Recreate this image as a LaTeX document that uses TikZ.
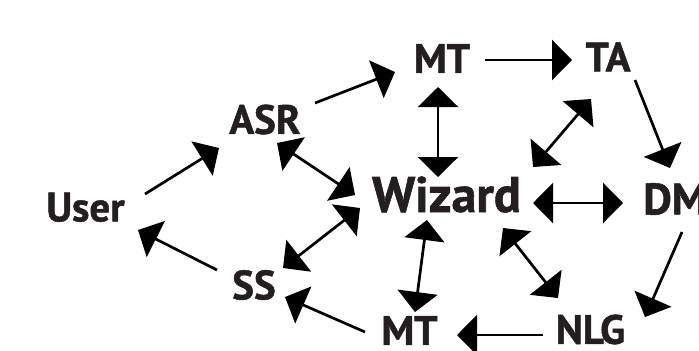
\documentclass[tikz,border=0pt]{standalone}
\usepackage{fontspec}
\setsansfont{PT Sans}[BoldFeatures={FakeBold=1.2}]
\usepackage{tikz}
\usetikzlibrary{arrows.meta,positioning}
\definecolor{ink}{RGB}{35,31,32}

\begin{document}
\begin{tikzpicture}[x=0.5pt,y=-0.5pt,line width=1.35pt,>={Triangle[length=10pt,width=20pt]}]
      \tikzstyle{word}=[inner sep=0pt,text=ink,font=\sffamily\bfseries\fontsize{20.5}{24}\selectfont,text height=14.35pt,text depth=0pt]
      \tikzstyle{bigword}=[word,font=\sffamily\bfseries\fontsize{25}{30}\selectfont,text height=17.5pt]

      \useasboundingbox (0,0) rectangle (699,350);

      \node[word] (user) at (85.5,207) {User};
      \node[word] (asr) at (265,119.5) {ASR};
      \node[word] (mtup) at (442,58.5) {MT};
      \node[word] (ta) at (608,57) {TA};
      \node[bigword] (wiz) at (446.5,194.5) {Wizard};
      \node[word,anchor=west,font=\sffamily\bfseries\fontsize{22}{26}\selectfont,text height=15.4pt] (dm) at (642,199) {DM};
      \node[word] (ss) at (254,285) {SS};
      \node[word] (mtdown) at (409.5,330.5) {MT};
      \node[word] (nlg) at (590.5,329.5) {NLG};

      \draw[->] ([shift={(59.5,-13)}]user.center)--([shift={(-46,28.5)}]asr.center);
      \draw[->] ([shift={(50,-16.5)}]asr.center)--([shift={(-47,13.5)}]mtup.center);
      \draw[->] ([shift={(43,1.5)}]mtup.center)--([shift={(-36,3)}]ta.center);
      \draw[<->] ([shift={(-4,28.5)}]mtup.center)--([shift={(-8.5,-17.5)}]wiz.center);
      \draw[<->] ([shift={(-17,42)}]ta.center)--([shift={(86.5,-27.5)}]wiz.center);
      \draw[->] ([shift={(27,23)}]ta.center)--([shift={(28,-31)}]dm.west);
      \draw[<->] ([shift={(86.5,8.5)}]wiz.center)--([shift={(-19,4)}]dm.west);
      \draw[<->] ([shift={(12,23.5)}]asr.center)--([shift={(-91.5,0.5)}]wiz.center);
      \draw[<->] ([shift={(-86.5,13.5)}]wiz.center)--([shift={(29,-17)}]ss.center);
      \draw[->] ([shift={(-37,-15)}]ss.center)--([shift={(52.5,23)}]user.center);
      \draw[->] ([shift={(-44.5,1.5)}]mtdown.center)--([shift={(31,12)}]ss.center);
      \draw[<->] ([shift={(-19.5,25.5)}]wiz.center)--([shift={(5.5,-18.5)}]mtdown.center);
      \draw[<->] ([shift={(56.5,33.5)}]wiz.center)--([shift={(-32.5,-31.5)}]nlg.center);
      \draw[->] ([shift={(40,33)}]dm.west)--([shift={(54.5,-12.5)}]nlg.center);
      \draw[->] ([shift={(-47.5,5.5)}]nlg.center)--([shift={(47.5,4.5)}]mtdown.center);
\end{tikzpicture}
\end{document}
